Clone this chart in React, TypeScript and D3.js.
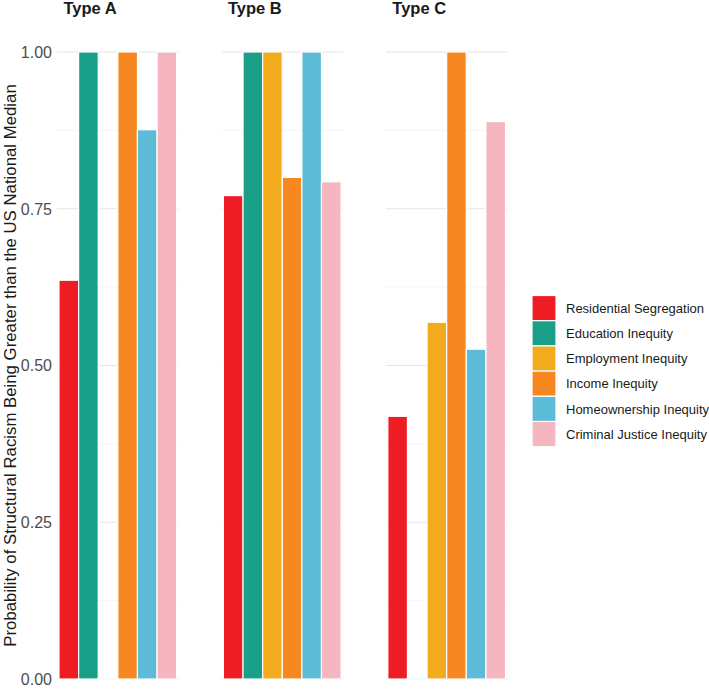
import React from "react";
import * as d3 from "d3";

const categories = [
  "Residential Segregation",
  "Education Inequity",
  "Employment Inequity",
  "Income Inequity",
  "Homeownership Inequity",
  "Criminal Justice Inequity",
];
const types = ["Type A", "Type B", "Type C"];
const typeAValues = [0.636, 1.0, 0.002, 1.0, 0.876, 1.0];
const typeBValues = [0.771, 1.0, 1.0, 0.8, 1.0, 0.793];
const typeCValues = [0.419, 0.002, 0.569, 1.0, 0.526, 0.889];
const colors = ["#EE1D25", "#1A9F88", "#F2AB1D", "#F68721", "#5CBCD8", "#F6B6BF"];
const majorTicks = [0, 0.25, 0.5, 0.75, 1.0];
const minorTicks = [0.125, 0.375, 0.625, 0.875];
const yTitle = "Probability of Structural Racism Being Greater than the US National Median";

const W = 709;
const H = 691;
const FONT = "'Liberation Sans', Arial, Helvetica, sans-serif";

export default function App() {
  const seriesByType = [typeAValues, typeBValues, typeCValues];
  const y = d3.scaleLinear().domain([0, 1]).range([679, 52]);
  const facet = d3.scaleBand<string>().domain(types).range([57, 507.5]).paddingInner(0.26);
  const bw = facet.bandwidth();
  const inner = d3.scaleBand<string>().domain(categories).range([2, bw - 2]).padding(0);
  const color = d3.scaleOrdinal<string, string>().domain(categories).range(colors);
  const legendY = d3.scaleBand<string>().domain(categories).range([295.5, 295.5 + 25.2 * 6]);
  const fmt = d3.format(".2f");

  return (
    <svg
      width={W}
      height={H}
      style={{ position: "absolute", left: 0, top: 0, background: "#fff" }}
      fontFamily={FONT}
    >
      <rect x={0} y={0} width={W} height={H} fill="#fff" />
      {types.map((t, ti) => {
        const x0 = facet(t)!;
        const vals = seriesByType[ti];
        return (
          <g key={t} transform={`translate(${x0},0)`}>
            {minorTicks.map((v) => (
              <line key={"mi" + v} x1={0} x2={bw} y1={y(v)} y2={y(v)} stroke="#EEEEEE" strokeWidth={0.6} />
            ))}
            {majorTicks.map((v) => (
              <line key={"ma" + v} x1={0} x2={bw} y1={y(v)} y2={y(v)} stroke="#E6E6E6" strokeWidth={1.1} />
            ))}
            {categories.map((c, ci) => (
              <rect
                key={c}
                x={inner(c)!}
                width={inner.bandwidth()}
                y={y(vals[ci])}
                height={y(0) - y(vals[ci])}
                fill={color(c)}
                stroke="#fff"
                strokeWidth={1.2}
              />
            ))}
            <text x={6.5} y={14} fontSize={16.5} fontWeight="bold" fill="#1a1a1a">
              {t}
            </text>
          </g>
        );
      })}
      {majorTicks.map((v) => (
        <text
          key={"yt" + v}
          x={52}
          y={y(v)}
          dy="0.36em"
          textAnchor="end"
          fontSize={16}
          fill="#4D4D4D"
        >
          {fmt(v)}
        </text>
      ))}
      <text
        transform={`translate(16,${(y(0) + y(1)) / 2}) rotate(-90)`}
        textAnchor="middle"
        fontSize={16.8}
        fill="#1a1a1a"
      >
        {yTitle}
      </text>
      {categories.map((c) => (
        <g key={"lg" + c} transform={`translate(532,${legendY(c)!})`}>
          <rect x={0} y={0} width={24} height={legendY.bandwidth()} fill={color(c)} stroke="#fff" strokeWidth={1.2} />
          <text x={34} y={legendY.bandwidth() / 2} dy="0.36em" fontSize={13} fill="#1a1a1a">
            {c}
          </text>
        </g>
      ))}
    </svg>
  );
}
